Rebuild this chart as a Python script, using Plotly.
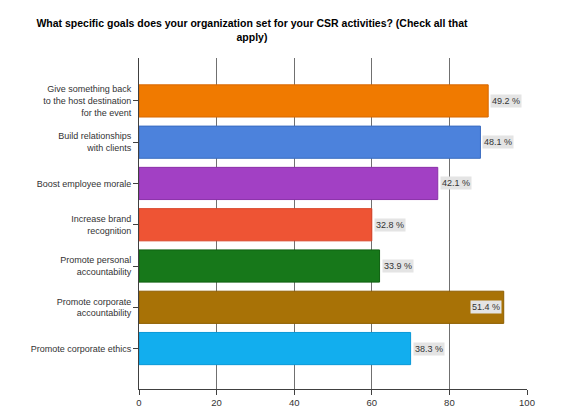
import plotly.graph_objects as go

categories = [
    "Give something back<br>to the host destination<br>for the event",
    "Build relationships<br>with clients",
    "Boost employee morale",
    "Increase brand<br>recognition",
    "Promote personal<br>accountability",
    "Promote corporate<br>accountability",
    "Promote corporate ethics",
]
counts = [90, 88, 77, 60, 62, 94, 70]
percents = [49.2, 48.1, 42.1, 32.8, 33.9, 51.4, 38.3]
colors = ["#F07A00", "#4C82DC", "#A240C4", "#EE5434", "#17781A", "#A87206", "#12AEEE"]
line_colors = ["#D86800", "#3A6CC0", "#8A30A8", "#D84428", "#0E6010", "#8E5E00", "#0898D8"]

fig = go.Figure()
fig.add_trace(go.Bar(
    x=counts, y=categories, orientation="h",
    marker=dict(color=colors, line=dict(color=line_colors, width=1)),
    width=0.78, showlegend=False, hoverinfo="skip",
))

for c, v, p in zip(categories, counts, percents):
    inside = v > 92
    fig.add_annotation(
        x=v, y=c, xref="x", yref="y",
        text=f"{p:.1f} %", showarrow=False,
        xanchor="right" if inside else "left",
        xshift=-2 if inside else 2,
        bgcolor="#E4E4E4",
        font=dict(family="Liberation Sans, Arial", size=9, color="#333333"),
        borderpad=1,
    )

fig.update_layout(
    width=568, height=420,
    margin=dict(l=139, r=41, t=58, b=31),
    paper_bgcolor="white", plot_bgcolor="white",
    title=dict(
        text="<b>What specific goals does your organization set for your CSR activities? (Check all that<br>apply)</b>",
        x=252/568, xanchor="center", y=1-27/420, yanchor="middle",
        font=dict(family="Liberation Sans, Arial", size=10.5, color="#000000"),
    ),
    font=dict(family="Liberation Sans, Arial", size=9, color="#333333"),
    bargap=0.22,
)
fig.update_xaxes(
    range=[0, 100], dtick=20, showgrid=True, gridcolor="#707070", gridwidth=1,
    showline=True, linecolor="#404040", linewidth=1,
    ticks="outside", ticklen=5, tickcolor="#404040",
    zeroline=False, tickfont=dict(size=9.5, color="#333333"),
)
fig.update_yaxes(
    range=[6.98, -1.04], showline=True, linecolor="#404040", linewidth=1,
    ticks="outside", ticklen=5, tickcolor="#404040", showgrid=False,
    tickfont=dict(size=9, color="#333333"),
)

fig.write_html("out.html")
